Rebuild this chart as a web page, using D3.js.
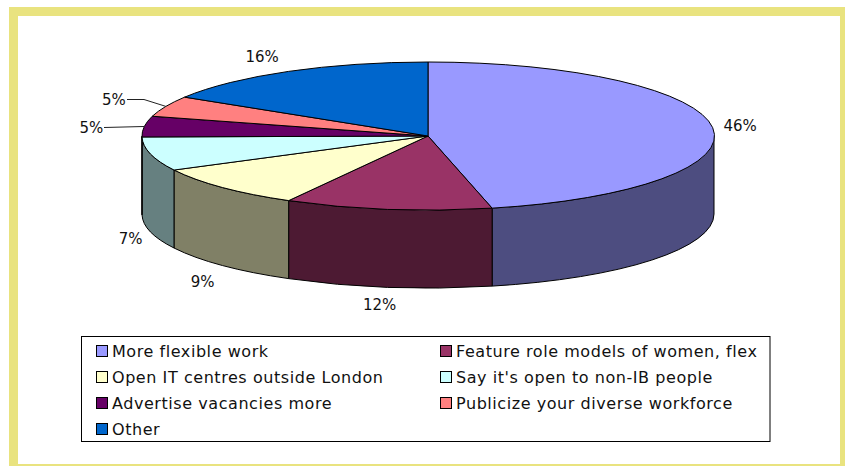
<!DOCTYPE html>
<html>
<head>
<meta charset="utf-8">
<script src="https://cdn.jsdelivr.net/npm/d3@7"></script>
<style>
html, body { margin: 0; padding: 0; background: #fff; overflow: hidden; }
text { font-family: "DejaVu Sans", sans-serif; fill: #111; }
</style>
</head>
<body>
<svg width="845" height="466"></svg>
<script>
// values
var categories = ["More flexible work", "Feature role models of women, flex", "Open IT centres outside London",
  "Say it's open to non-IB people", "Advertise vacancies more", "Publicize your diverse workforce", "Other"];
var shares = [46.4, 11.7, 9.3, 7.4, 4.5, 4.5, 16.2];
var colors = ["#9999ff", "#993366", "#ffffcc", "#ccffff", "#660066", "#ff8080", "#0066cc"];

var svg = d3.select("svg");
var cx = 428, cy = 136, rx = 286, ry = 74, depth = 78;

// frame
svg.append("rect").attr("x", 13.5).attr("y", 11.5).attr("width", 831).attr("height", 457)
  .attr("fill", "#fff").attr("stroke", "#e9e37f").attr("stroke-width", 9);

var pie = d3.pie().sort(null).value(function(d) { return d; });
var slices = pie(shares);
var arc = d3.arc().innerRadius(0).outerRadius(1);

function px(a) { return cx + rx * Math.sin(a); }
function py(a) { return cy - ry * Math.cos(a); }

// side walls, only the front half of the rim shows
var walls = svg.append("g").attr("class", "walls");
slices.forEach(function(d, i) {
  var a0 = Math.max(d.startAngle, Math.PI / 2), a1 = Math.min(d.endAngle, 3 * Math.PI / 2);
  if (a1 <= a0) return;
  var s = "M" + px(a0) + "," + py(a0)
    + "A" + rx + "," + ry + " 0 0 1 " + px(a1) + "," + py(a1)
    + "L" + px(a1) + "," + (py(a1) + depth)
    + "A" + rx + "," + ry + " 0 0 0 " + px(a0) + "," + (py(a0) + depth) + "Z";
  var c = d3.rgb(colors[i]);
  walls.append("path").attr("d", s)
    .attr("fill", d3.rgb(c.r / 2, c.g / 2, c.b / 2))
    .attr("stroke", "#000").attr("stroke-width", 1);
});

// top face
svg.append("g").attr("class", "top")
  .attr("transform", "translate(" + cx + "," + cy + ") scale(" + rx + "," + ry + ")")
  .selectAll("path")
  .data(slices)
  .enter()
  .append("path")
  .attr("d", arc)
  .attr("fill", function(d, i) { return colors[i]; })
  .attr("stroke", "#000")
  .attr("stroke-width", 1)
  .attr("vector-effect", "non-scaling-stroke");

// labels, offset from the rim point at each slice's middle
var labelOffsets = [[28, -2], [-8, 96], [-20, 94.5], [-20, 85], [-53, 1.5], [-52, -6], [-26.5, -14]];
var labels = svg.append("g").attr("class", "labels");
slices.forEach(function(d, i) {
  var mid = (d.startAngle + d.endAngle) / 2;
  labels.append("text")
    .attr("x", px(mid) + labelOffsets[i][0])
    .attr("y", py(mid) + labelOffsets[i][1])
    .attr("text-anchor", "middle")
    .attr("dominant-baseline", "central")
    .attr("font-size", 15)
    .text(Math.round(d.value) + "%");
});

// leader lines of the two small slices
var leaders = [
  {slice: 5, points: [[127, 99.5], [144, 99.5]]},
  {slice: 4, points: [[104, 127.5]]}
];
leaders.forEach(function(l) {
  var d = slices[l.slice], mid = (d.startAngle + d.endAngle) / 2;
  svg.append("path")
    .attr("d", d3.line()(l.points.concat([[px(mid), py(mid)]])))
    .attr("fill", "none").attr("stroke", "#222").attr("stroke-width", 1);
});

// legend
svg.append("rect").attr("x", 81.5).attr("y", 336.5).attr("width", 688.5).attr("height", 105)
  .attr("fill", "#fff").attr("stroke", "#000").attr("stroke-width", 1);

var col = d3.scalePoint().domain([0, 1]).range([96, 440]);
var row = d3.scalePoint().domain([0, 1, 2, 3]).range([351, 429]);
var item = svg.append("g").attr("class", "legend")
  .selectAll("g")
  .data(categories)
  .enter()
  .append("g")
  .attr("transform", function(d, i) { return "translate(" + col(i % 2) + "," + row(Math.floor(i / 2)) + ")"; });
item.append("rect")
  .attr("x", 0.5).attr("y", -5.5).attr("width", 11).attr("height", 11)
  .attr("fill", function(d, i) { return colors[i]; })
  .attr("stroke", "#000").attr("stroke-width", 1);
item.append("text")
  .attr("x", 16)
  .attr("dominant-baseline", "central")
  .attr("font-size", 16)
  .attr("letter-spacing", 0.56)
  .text(function(d) { return d; });
</script>
</body>
</html>
